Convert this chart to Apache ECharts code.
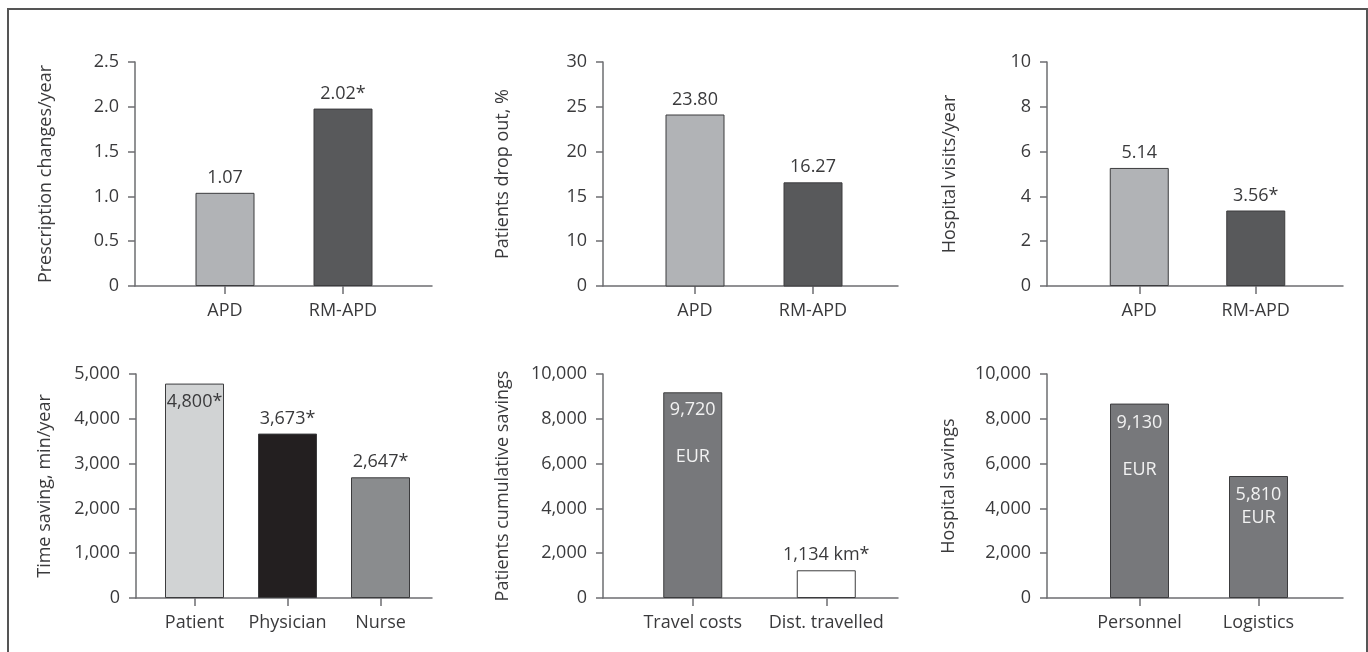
<!DOCTYPE html>
<html><head><meta charset="utf-8">
<script src="https://cdn.jsdelivr.net/npm/echarts@6/dist/echarts.min.js"></script>
<style>html,body{margin:0;padding:0;background:#fff}#c{width:1368px;height:652px}</style>
</head><body><div id="c"></div>
<script>
// ---------- DATA ----------
const categories1 = ['APD', 'RM-APD'];
const values1 = [1.04, 1.98];
const labels1 = ['1.07', '2.02*'];
const yTicks1 = ['0', '0.5', '1.0', '1.5', '2.0', '2.5'];
const yName1 = 'Prescription changes/year';

const categories2 = ['APD', 'RM-APD'];
const values2 = [24.14, 16.57];
const labels2 = ['23.80', '16.27'];
const yTicks2 = ['0', '10', '15', '20', '25', '30'];
const yName2 = 'Patients drop out, %';

const categories3 = ['APD', 'RM-APD'];
const values3 = [5.27, 3.37];
const labels3 = ['5.14', '3.56*'];
const yTicks3 = ['0', '2', '4', '6', '8', '10'];
const yName3 = 'Hospital visits/year';

const categories4 = ['Patient', 'Physician', 'Nurse'];
const values4 = [4786, 3670, 2694];
const labels4 = ['4,800*', '3,673*', '2,647*'];
const yTicks4 = ['0', '1,000', '2,000', '3,000', '4,000', '5,000'];
const yName4 = 'Time saving, min/year';

const categories5 = ['Travel costs', 'Dist. travelled'];
const values5 = [9183, 1237];
const labels5 = ['9,720\n\nEUR', '1,134 km*'];
const yTicks5 = ['0', '2,000', '4,000', '6,000', '8,000', '10,000'];
const yName5 = 'Patients cumulative savings';

const categories6 = ['Personnel', 'Logistics'];
const values6 = [8679, 5446];
const labels6 = ['9,130\n\nEUR', '5,810\nEUR'];
const yTicks6 = ['0', '2,000', '4,000', '6,000', '8,000', '10,000'];
const yName6 = 'Hospital savings';

// ---------- LAYOUT / STYLE ----------
const FONT = '"Open Sans", sans-serif';
const TXT = '#3a3a3c';
const AX = '#6d6e71';
const FS = 18;
const panels = [
  {cats: categories1, vals: values1, labs: labels1, ticks: yTicks1, name: yName1, scale: [0, 2.5, 0.5],
   l: 135, r: 432, t: 62, b: 286, il: 166, ir: 402, gap: 80,
   colors: ['#b1b3b6', '#58595b'], lab: [{}, {}]},
  {cats: categories2, vals: values2, labs: labels2, ticks: yTicks2, name: yName2, scale: [5, 30, 5],
   l: 603, r: 898, t: 62, b: 286, il: 636, ir: 872, gap: 91,
   colors: ['#b1b3b6', '#58595b'], lab: [{}, {}]},
  {cats: categories3, vals: values3, labs: labels3, ticks: yTicks3, name: yName3, scale: [0, 10, 2],
   l: 1047, r: 1343, t: 62, b: 286, il: 1081, ir: 1314, gap: 88,
   colors: ['#b1b3b6', '#58595b'], lab: [{}, {}]},
  {cats: categories4, vals: values4, labs: labels4, ticks: yTicks4, name: yName4, scale: [0, 5000, 1000],
   l: 136, r: 432, t: 374, b: 598, il: 148, ir: 427, gap: 82,
   colors: ['#d1d3d4', '#231f20', '#8a8c8e'],
   lab: [{position: 'insideTop', distance: 7, lineHeight: 22}, {}, {}]},
  {cats: categories5, vals: values5, labs: labels5, ticks: yTicks5, name: yName5, scale: [0, 10000, 2000],
   l: 603, r: 898, t: 374, b: 598, il: 626, ir: 893, gap: 91,
   colors: ['#77787b', '#ffffff'],
   lab: [{position: 'insideTop', distance: 6, lineHeight: 23.5, color: '#f2f2f2'}, {}]},
  {cats: categories6, vals: values6, labs: labels6, ticks: yTicks6, name: yName6, scale: [0, 10000, 2000],
   l: 1047, r: 1343, t: 374, b: 598, il: 1080, ir: 1318, gap: 89,
   colors: ['#77787b', '#77787b'],
   lab: [{position: 'insideTop', distance: 8, lineHeight: 23.5, color: '#f2f2f2'},
         {position: 'insideTop', distance: 7, lineHeight: 23, color: '#f2f2f2'}]}
];

const grid = [], xAxis = [], yAxis = [], series = [];
const textBase = {fontFamily: FONT, fontSize: FS, color: TXT};

panels.forEach((p, i) => {
  const [mn, mx, iv] = p.scale;
  grid.push({left: p.l, top: p.t, width: p.r - p.l, height: p.b - p.t});
  grid.push({left: p.il, top: p.t, width: p.ir - p.il, height: p.b - p.t});
  // outer frame axes
  xAxis.push({gridIndex: 2 * i, type: 'value', min: 0, max: 1,
    axisLine: {show: true, onZero: false, lineStyle: {color: AX, width: 1.5}},
    axisTick: {show: false}, axisLabel: {show: false}, splitLine: {show: false}});
  yAxis.push({gridIndex: 2 * i, type: 'value', min: mn, max: mx, interval: iv,
    axisLine: {show: true, onZero: false, lineStyle: {color: AX, width: 1.5}},
    axisTick: {show: true, length: 7, lineStyle: {color: AX, width: 1.5}},
    axisLabel: Object.assign({margin: 16, formatter: v => p.ticks[Math.round((v - mn) / iv)]}, textBase),
    splitLine: {show: false},
    name: p.name, nameLocation: 'middle', nameGap: p.gap, nameTextStyle: textBase});
  // inner category axes
  xAxis.push({gridIndex: 2 * i + 1, type: 'category', data: p.cats,
    axisLine: {show: false},
    axisTick: {show: true, alignWithLabel: true, length: 8, lineStyle: {color: AX, width: 1.5}},
    axisLabel: Object.assign({margin: 16, interval: 0}, textBase)});
  yAxis.push({gridIndex: 2 * i + 1, type: 'value', min: mn, max: mx, interval: iv, show: false});
  series.push({type: 'bar', xAxisIndex: 2 * i + 1, yAxisIndex: 2 * i + 1, barWidth: 59,
    itemStyle: {borderColor: '#3c3c3e', borderWidth: 1},
    label: Object.assign({show: true, position: 'top', distance: 6,
      formatter: d => p.labs[d.dataIndex]}, textBase),
    data: p.vals.map((v, j) => ({value: v, itemStyle: {color: p.colors[j]}, label: p.lab[j]}))});
});

const chart = echarts.init(document.getElementById('c'), null, {renderer: 'canvas'});
chart.setOption({
  animation: false,
  backgroundColor: '#ffffff',
  grid, xAxis, yAxis, series,
  graphic: [{type: 'polyline', shape: {points: [[8, 652], [8, 9], [1367, 9], [1367, 652]]},
    style: {stroke: '#555', lineWidth: 2, fill: null}}]
});
</script></body></html>
